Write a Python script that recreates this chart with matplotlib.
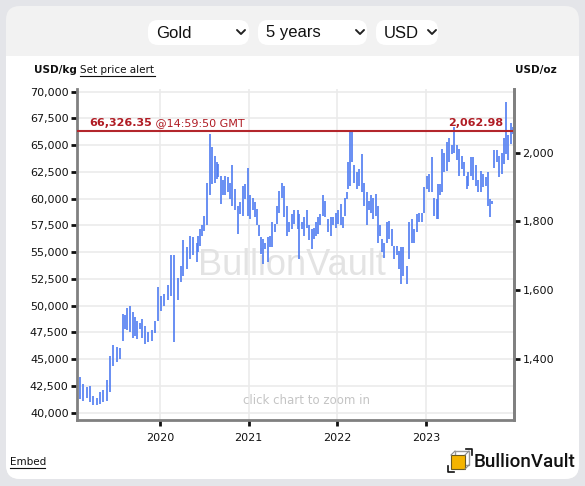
import matplotlib
matplotlib.use('Agg')
import matplotlib.pyplot as plt
from matplotlib.patches import FancyBboxPatch, Rectangle
from matplotlib.ticker import FuncFormatter, FixedLocator

# troy ounces in one kilogram
OZ_PER_KG = 32.1507

# spot price shown by the red line
current_kg = 66326.35
current_oz = 2062.98
current_time = '@14:59:50 GMT'

# bar times (decimal years) and high / low of each bar in USD/kg
years = [
    2019.098, 2019.135, 2019.174, 2019.211, 2019.248, 2019.286, 2019.324, 2019.361, 2019.399, 2019.436,
    2019.473, 2019.512, 2019.549, 2019.586, 2019.605, 2019.624, 2019.662, 2019.699, 2019.718, 2019.737,
    2019.775, 2019.794, 2019.831, 2019.868, 2019.906, 2019.944, 2019.981, 2020.011, 2020.048, 2020.087,
    2020.124, 2020.161, 2020.206, 2020.237, 2020.263,
    2020.301, 2020.338, 2020.375, 2020.414, 2020.432, 2020.451, 2020.470, 2020.499, 2020.526, 2020.564,
    2020.590, 2020.620, 2020.639, 2020.657, 2020.688, 2020.714, 2020.733, 2020.763, 2020.789, 2020.815,
    2020.846, 2020.876, 2020.902, 2020.939, 2020.958, 2020.989, 2021.015, 2021.045, 2021.071, 2021.090,
    2021.116, 2021.139, 2021.158, 2021.184, 2021.214, 2021.240, 2021.266, 2021.297, 2021.322, 2021.345,
    2021.379, 2021.401, 2021.428, 2021.454, 2021.485, 2021.514,
    2021.552, 2021.567, 2021.598, 2021.627, 2021.654, 2021.680, 2021.710, 2021.736, 2021.755, 2021.778,
    2021.804, 2021.841, 2021.860, 2021.897, 2021.924, 2021.953, 2021.980, 2022.010, 2022.037, 2022.067,
    2022.086, 2022.105, 2022.116, 2022.142, 2022.168, 2022.191, 2022.218, 2022.244, 2022.274, 2022.300,
    2022.330, 2022.356, 2022.379, 2022.405, 2022.432, 2022.454, 2022.480, 2022.506, 2022.529, 2022.556,
    2022.585, 2022.612, 2022.638, 2022.669, 2022.694, 2022.717, 2022.743,
    2022.781, 2022.807, 2022.838, 2022.867, 2022.894, 2022.920, 2022.950, 2022.980, 2023.007, 2023.033,
    2023.063, 2023.092, 2023.119, 2023.137, 2023.157, 2023.183, 2023.205, 2023.232, 2023.258, 2023.289,
    2023.318, 2023.345, 2023.371, 2023.401, 2023.427, 2023.458, 2023.476, 2023.506, 2023.532, 2023.559,
    2023.588, 2023.619, 2023.644, 2023.672, 2023.701, 2023.720, 2023.746, 2023.769, 2023.796, 2023.822,
    2023.852, 2023.878, 2023.901, 2023.927, 2023.954, 2023.983,
]

high_kg = [
    43300, 42700, 42400, 42500, 41600, 41400, 41900, 42100, 43100, 45300,
    46300, 46100, 46000, 49200, 49100, 49800, 50000, 49400, 48900, 48600,
    48400, 48800, 48100, 47500, 47700, 48600, 51700, 50900, 51100, 51900,
    54700, 54700, 52600, 53700, 56100,
    55500, 56500, 56400, 55900, 56500, 57200, 57500, 58400, 61500, 66000,
    64800, 64000, 63400, 63200, 62100, 61700, 62100, 62000, 61500, 63100,
    60900, 59300, 59700, 61200, 61400, 62900, 60300, 60100, 59700, 59000,
    57500, 56400, 56200, 55900, 56400, 56500, 57800, 57600, 59300, 60700,
    61500, 61200, 59300, 57800, 58600, 58900,
    58900, 58600, 57800, 58300, 58900, 57500, 57200, 57300, 57800, 58300,
    58600, 60300, 59800, 58100, 58300, 58300, 58700, 58900, 59500, 58300,
    60100, 60600, 63400, 66400, 66400, 63100, 62500, 62800, 64200, 61500,
    60600, 59800, 60300, 60100, 60400, 59300, 57500, 56200, 55900, 57800,
    57900, 57200, 55600, 55600, 55100, 55500, 55500,
    53700, 57800, 58100, 57200, 58600, 58700, 58700, 61100, 62100, 62300,
    63900, 60100, 60000, 61400, 61400, 64600, 64300, 65300, 65700, 65000,
    66700, 65000, 64600, 64000, 63400, 62100, 62500, 63900, 63900, 63100,
    61700, 62600, 62300, 62000, 62500, 60000, 59800, 64500, 64500, 64000,
    64300, 65700, 69000, 65900, 67100, 66700,
]

low_kg = [
    41300, 41100, 41400, 41000, 40700, 40700, 40800, 41000, 41100, 41900,
    44400, 44700, 45000, 46700, 47800, 47700, 47500, 47000, 47200, 46900,
    47800, 47000, 46400, 46600, 46700, 47400, 48600, 49500, 50000, 50500,
    50900, 46600, 50500, 52200, 52800,
    53400, 54400, 54700, 54100, 55000, 55600, 56500, 57000, 57500, 60300,
    61400, 61500, 61800, 62000, 59500, 60300, 60300, 60600, 60000, 59300,
    58900, 56700, 58600, 58400, 60000, 58400, 58100, 58900, 58300, 57500,
    56500, 54800, 53900, 55300, 54100, 55500, 55500, 56900, 57600, 58700,
    60100, 58300, 56500, 56900, 57200, 57600,
    57200, 54400, 57200, 56500, 57300, 56100, 55300, 56200, 56500, 56700,
    57500, 58400, 58300, 56900, 56500, 57500, 57300, 57600, 57500, 57300,
    58400, 60000, 60900, 61200, 63400, 61500, 60900, 61200, 60600, 59300,
    57500, 58900, 58700, 58100, 58400, 55900, 56500, 55000, 54500, 55900,
    56200, 55600, 54400, 54700, 53400, 52000, 52800,
    52000, 54400, 55900, 55900, 56900, 57800, 57800, 58700, 60900, 60600,
    60600, 58400, 58100, 58100, 60300, 60600, 62500, 62600, 63400, 64200,
    64300, 63600, 62100, 62800, 62100, 60900, 61200, 62100, 61700, 61200,
    60600, 60600, 61100, 61200, 59300, 58300, 59500, 62900, 63400, 62000,
    62300, 63200, 64200, 63600, 65100, 66000,
]

year_ticks = [2020, 2021, 2022, 2023]
kg_ticks = [40000, 42500, 45000, 47500, 50000, 52500, 55000, 57500, 60000, 62500, 65000, 67500, 70000]
oz_ticks = [1400, 1600, 1800, 2000]
menus = ['Gold', '5 years', 'USD']

W, H = 585, 486
fig = plt.figure(figsize=(W / 100, H / 100), dpi=100)
fig.patch.set_facecolor('#e4e5e9')

# pixel canvas for the frame, menus and footer
bg = fig.add_axes([0, 0, 1, 1], zorder=0)
bg.set_xlim(0, W)
bg.set_ylim(H, 0)
bg.axis('off')

bg.add_patch(FancyBboxPatch((6, 6), 573, 473, boxstyle='round,pad=0,rounding_size=14',
                            fc='#f2f2f2', ec='none'))
bg.add_patch(FancyBboxPatch((6, 56), 573, 423, boxstyle='round,pad=0,rounding_size=14',
                            fc='white', ec='none'))
bg.add_patch(Rectangle((6, 56), 573, 30, fc='white', ec='none'))

# drop-down menus
boxes = [(148, 101, 237), (258, 109, 356), (376, 62, 428)]
for label, (x0, w, chev) in zip(menus, boxes):
    bg.add_patch(FancyBboxPatch((x0, 20), w, 25, boxstyle='round,pad=0,rounding_size=10',
                                fc='white', ec='none'))
    bg.text(x0 + 8, 33, label, fontsize=12, family='Liberation Sans', va='center', ha='left',
            color='#111111')
    bg.plot([chev, chev + 4, chev + 8], [30, 34, 30], color='#222222', lw=1.4,
            solid_capstyle='round', solid_joinstyle='round')

bg.text(77, 70, 'USD/kg', fontsize=7.5, weight='bold', va='center', ha='right', color='#111111')
bg.text(80, 70, 'Set price alert', fontsize=7.5, va='center', ha='left', color='#111111')
bg.plot([80, 155], [76, 76], color='#111111', lw=0.8)
bg.text(515, 70, 'USD/oz', fontsize=7.5, weight='bold', va='center', ha='left', color='#111111')

bg.text(10, 462, 'Embed', fontsize=7.5, va='center', ha='left', color='#111111')
bg.plot([10, 45], [467.5, 467.5], color='#111111', lw=0.8)

# logo cube
bg.add_patch(Rectangle((455, 451), 14, 14, fc='none', ec='#9a9a9a', lw=1))
bg.add_patch(Rectangle((451, 455), 14, 14, fc='#f5b400', ec='#6b5a20', lw=0.8))
for dx, dy in [(0, 0), (14, 0), (14, 14)]:
    bg.plot([451 + dx, 455 + dx], [455 + dy, 451 + dy], color='#8a8a8a', lw=0.8)
bg.plot([466, 472, 472], [449, 449, 455], color='#111111', lw=1.2)
bg.plot([448, 448, 454], [466, 472, 472], color='#111111', lw=1.2)
bg.text(474, 462, 'BullionVault', fontsize=13.5, family='Roboto', weight='medium',
        va='center', ha='left', color='#111111')

# price chart
left, right, top, bottom = 77, 514, 89, 419.5
ax = fig.add_axes([left / W, 1 - bottom / H, (right - left) / W, (bottom - top) / H], zorder=1)
ax.set_facecolor('none')
ax.set_xlim(2019.064, 2023.991)
ax.set_ylim(39365, 70243)

ax.vlines(years, low_kg, high_kg, color='#4f7cf1', lw=1.2, zorder=3)
ax.axhline(current_kg, color='#b3262c', lw=1.5, zorder=4)

lbl = ax.annotate(f'{current_kg:,.2f}', xy=(0.027, current_kg), xycoords=('axes fraction', 'data'),
                  xytext=(0, 2), textcoords='offset points', va='bottom', ha='left',
                  fontsize=8, weight='bold', color='#b01c24', zorder=5)
ax.annotate(' ' + current_time, xy=(1, 0), xycoords=lbl, va='bottom', ha='left',
            fontsize=8, color='#b01c24', zorder=5)
ax.annotate(f'{current_oz:,.2f}', xy=(0.975, current_kg), xycoords=('axes fraction', 'data'),
            xytext=(0, 2), textcoords='offset points', va='bottom', ha='right',
            fontsize=8, weight='bold', color='#b01c24', zorder=5)

ax.text(0.492, 0.467, 'BullionVault', transform=ax.transAxes, fontsize=26,
        family='Liberation Sans', color='#e3e3e3', ha='center', va='center', zorder=1)
ax.text(0.526, 0.059, 'click chart to zoom in', transform=ax.transAxes, fontsize=8.5,
        color='#c4c4c4', ha='center', va='center', zorder=1)

ax.xaxis.set_major_locator(FixedLocator(year_ticks))
ax.set_xticklabels([str(y) for y in year_ticks])
ax.yaxis.set_major_locator(FixedLocator(kg_ticks))
ax.yaxis.set_major_formatter(FuncFormatter(lambda v, p: f'{v:,.0f}'))
ax.grid(True, color='#ebebeb', lw=1.2, zorder=0)
ax.set_axisbelow(True)
ax.tick_params(axis='both', length=4, width=2, color='#111111', labelsize=8,
               labelcolor='#111111', pad=2)
ax.tick_params(axis='x', pad=6)

for s in ['left', 'right', 'bottom']:
    ax.spines[s].set_color('#808080')
    ax.spines[s].set_linewidth(2)
ax.spines['top'].set_visible(False)

ax2 = ax.twinx()
ax2.set_ylim(39365 / OZ_PER_KG, 70243 / OZ_PER_KG)
ax2.yaxis.set_major_locator(FixedLocator(oz_ticks))
ax2.yaxis.set_major_formatter(FuncFormatter(lambda v, p: f'{v:,.0f}'))
ax2.tick_params(axis='y', length=4, width=2, color='#111111', labelsize=8,
                labelcolor='#111111', pad=2)
for s in ['left', 'top', 'bottom']:
    ax2.spines[s].set_visible(False)
ax2.spines['right'].set_color('#808080')
ax2.spines['right'].set_linewidth(2)

fig.savefig('out.png', dpi=100)
